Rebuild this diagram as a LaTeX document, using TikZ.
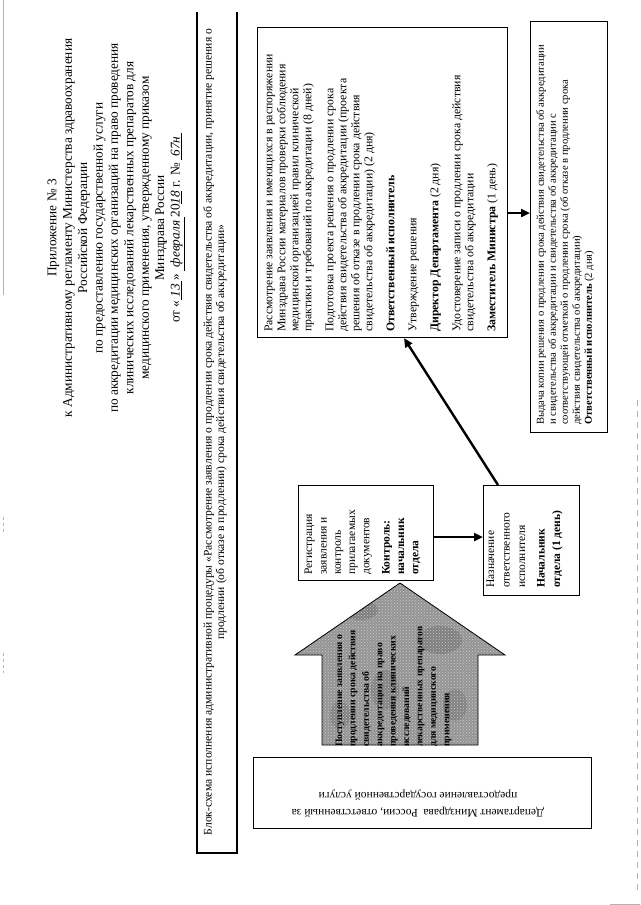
\documentclass[tikz,border=0pt]{standalone}
\usepackage{fontspec}
\setmainfont{Liberation Serif}
\usetikzlibrary{arrows.meta,patterns}
\begin{document}
\begin{tikzpicture}[x=1pt,y=-1pt,
  box/.style={draw=black,line width=1.1pt,inner sep=0pt,anchor=north west},
  flow/.style={line width=2.4pt,-{Triangle[length=9pt,width=8pt]}},
  rtext/.style={rotate=90,inner sep=0pt,align=left,anchor=north west},
  scan/.style={draw=black!30,line width=0.7pt}]
\useasboundingbox (0,0) rectangle (640,905);
\fill[white] (0,0) rectangle (640,905);

% scan border traces
\draw[scan] (3,0) -- (3,295);
\draw[scan,dash pattern=on 3pt off 3pt] (3,517) -- (3,533);
\draw[scan,dash pattern=on 3pt off 3pt] (3,653) -- (3,673);
\draw[scan,dash pattern=on 6pt off 5pt] (637,400) -- (637,890);
\draw[scan] (610,904) -- (640,904);

% header
\node[rotate=90,inner sep=0pt,align=center,font=\fontsize{13.3}{15.4}\selectfont] (head) at (116,228) {%
Приложение № 3\\
к Административному регламенту Министерства здравоохранения\\
Российской Федерации\\
по предоставлению государственной услуги\\
по аккредитации медицинских организаций на право проведения\\
клинических исследований лекарственных препаратов для\\
медицинского применения, утвержденному приказом\\
Минздрава России\\
от «\underline{\textit{\ 13\ }}» \underline{\textit{\ февраля\ }}20\underline{\textit{18}} г. № \underline{\textit{\ 67н\ }}};

% title frame
\draw[line width=1.1pt] (197,12) -- (197,853) -- (237,853) -- (237,12);
\node[rotate=90,inner sep=0pt,align=center,font=\fontsize{11.6}{12.5}\selectfont] (title) at (215,432) {%
Блок-схема исполнения административной процедуры «Рассмотрение заявления о продлении срока действия свидетельства об аккредитации, принятие решения о\\
продлении (об отказе в продлении) срока действия свидетельства об аккредитации»};

% main box
\node[box,minimum width=250pt,minimum height=310pt] (main) at (257,27) {};
\node[rtext,font=\fontsize{11.8}{13}\selectfont] (maintext) at (264.5,332) {%
Рассмотрение заявления и имеющихся в распоряжении\\
Минздрава России материалов проверки соблюдения\\
медицинской организацией правил клинической\\
практики и требований по аккредитации (8 дней)\\[9pt]
Подготовка проекта решения о продлении срока\\
действия свидетельства об аккредитации (проекта\\
решения об отказе в продлении срока действия\\
свидетельства об аккредитации) (2 дня)\\[9pt]
\textbf{Ответственный исполнитель}\\[9pt]
Утверждение решения\\[9pt]
\textbf{Директор Департамента} (2 дня)\\[9pt]
Удостоверение записи о продлении срока действия\\
свидетельства об аккредитации\\[9pt]
\textbf{Заместитель Министра} (1 день)};

% output box
\node[box,minimum width=77pt,minimum height=411pt] (out) at (530,21) {};
\node[rtext,font=\fontsize{10.6}{12}\selectfont] (outtext) at (536,425) {%
Выдача копии решения о продлении срока действия свидетельства об аккредитации\\
и свидетельства об аккредитации и свидетельства об аккредитации с\\
соответствующей отметкой о продлении срока (об отказе в продлении срока\\
действия свидетельства об аккредитации)\\
\textbf{Ответственный исполнитель} (2 дня)};

% registration box
\node[box,minimum width=135pt,minimum height=95pt] (reg) at (298,485) {};
\node[rtext,font=\fontsize{11.5}{14.3}\selectfont] (regtext) at (304.5,575) {%
Регистрация\\
заявления и\\
контроль\\
прилагаемых\\
документов\\[6pt]
\textbf{Контроль:}\\
\textbf{начальник}\\
\textbf{отдела}};

% assignment box
\node[box,minimum width=96pt,minimum height=110pt] (assign) at (483,485) {};
\node[rtext,font=\fontsize{11.5}{15.5}\selectfont] (assigntext) at (486.5,588) {%
Назначение\\
ответственного\\
исполнителя\\[4pt]
\textbf{Начальник}\\
\textbf{отдела (1 день)}};

% incoming block arrow
\path[fill=black!42] (322,745) -- (322,655) -- (295,655) -- (400,583)
  -- (505,655) -- (478,655) -- (478,745) -- cycle;
\begin{scope}
\clip (322,745) -- (322,655) -- (295,655) -- (400,583) -- (505,655) -- (478,655) -- (478,745) -- cycle;
\fill[black!70,opacity=0.3] (360,610) ellipse (18pt and 10pt);
\fill[black!70,opacity=0.3] (440,640) ellipse (22pt and 14pt);
\fill[black!70,opacity=0.25] (385,690) ellipse (14pt and 20pt);
\fill[black!70,opacity=0.25] (455,705) ellipse (12pt and 16pt);
\fill[black!70,opacity=0.25] (340,715) ellipse (10pt and 14pt);
\fill[pattern=crosshatch dots,pattern color=white!80!black] (290,580) rectangle (510,750);
\end{scope}
\draw[black,line width=0.8pt] (322,745) -- (322,655) -- (295,655) -- (400,583)
  -- (505,655) -- (478,655) -- (478,745) -- cycle;
\node[rtext,font=\fontsize{9.7}{13.4}\selectfont\bfseries] (intext) at (335.5,747) {%
Поступление заявления о\\
продлении срока действия\\
свидетельства об\\
аккредитации на право\\
проведения клинических\\
исследований\\
лекарственных препаратов\\
для медицинского\\
применения};

% department box
\node[box,minimum width=338pt,minimum height=71pt] (dept) at (253,757) {};
\node[rotate=180,inner sep=0pt,align=center,font=\fontsize{11.5}{17}\selectfont] (depttext) at (418,803.5) {%
Департамент Минздрава\ \ России, ответственный за\\
предоставление государственной услуги};

% connectors
\draw[flow] (reg.east |- 0,537) -- (assign.west |- 0,537);
\draw[flow] ([xshift=15pt]assign.north west) -- ([xshift=147pt]main.south west);
\draw[flow] (main.east |- 0,213) -- (out.west |- 0,213);
\end{tikzpicture}
\end{document}
